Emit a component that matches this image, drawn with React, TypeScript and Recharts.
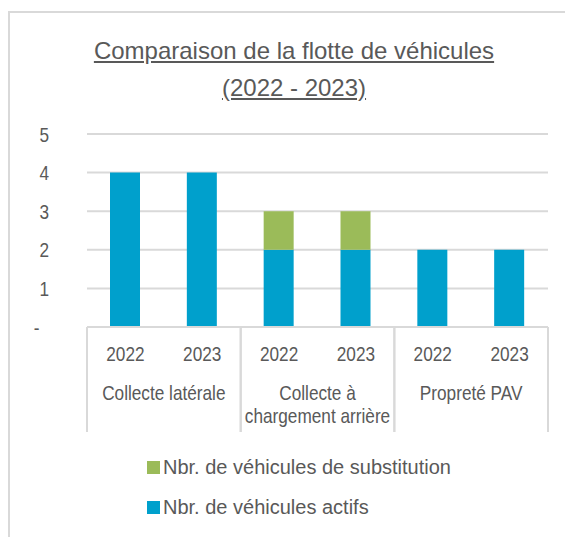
import React from 'react';
import { BarChart, Bar, XAxis, YAxis, CartesianGrid, Legend } from 'recharts';

const years = ['2022', '2023', '2022', '2023', '2022', '2023'];
const groups = [
  'Collecte latérale',
  'Collecte latérale',
  'Collecte à\nchargement arrière',
  'Collecte à\nchargement arrière',
  'Propreté PAV',
  'Propreté PAV',
];
const actifs = [4, 4, 2, 2, 2, 2];
const substitution = [0, 0, 1, 1, 0, 0];
const yTicks = [0, 1, 2, 3, 4, 5];

const data = years.map((year, i) => ({
  year,
  group: groups[i],
  actifs: actifs[i],
  substitution: substitution[i],
}));

const FONT = "'Liberation Sans', Arial, sans-serif";
const TEXT = '#595959';
const LINE = '#d9d9d9';
const BLUE = '#00a0cc';
const GREEN = '#9bbb59';
const YEAR_AXIS_H = 40;

// no Arial Narrow here, so squeeze the regular face
const Narrow = ({ x, y, anchor, dy, children }: any) => (
  <text
    transform={`translate(${x},${y}) scale(0.82,1)`}
    x={0}
    y={0}
    dy={dy}
    textAnchor={anchor}
    fill={TEXT}
    fontSize={21}
    fontFamily={FONT}
  >
    {children}
  </text>
);

const YearTick = (props: any) => {
  const { x, y, payload } = props;
  return (
    <Narrow x={x} y={y} dy={34} anchor="middle">
      {payload.value}
    </Narrow>
  );
};

const GroupTick = (props: any) => {
  const { x, y, payload } = props;
  const half = payload.offset || 0;
  const top = y - YEAR_AXIS_H;
  const lines = String(payload.value).split('\n');
  return (
    <g>
      <line x1={x - half} x2={x - half} y1={top} y2={top + 105} stroke={LINE} strokeWidth={2} />
      <line x1={x + half} x2={x + half} y1={top} y2={top + 105} stroke={LINE} strokeWidth={2} />
      <Narrow x={x} y={y} anchor="middle">
        {lines.map((l, i) => (
          <tspan key={i} x={0} dy={i === 0 ? 33 : 23}>
            {l}
          </tspan>
        ))}
      </Narrow>
    </g>
  );
};

const ValueTick = (props: any) => {
  const { x, y, payload } = props;
  return (
    <Narrow x={x} y={y} dy="0.36em" anchor="end">
      {payload.value === 0 ? '-\u2007' : String(payload.value)}
    </Narrow>
  );
};

const LegendContent = (props: any) => {
  const items = [...(props.payload || [])].reverse();
  return (
    <div style={{ height: 90, fontFamily: FONT, fontSize: 20, color: TEXT }}>
      {items.map((it: any) => (
        <div key={it.value} style={{ height: 40, display: 'flex', alignItems: 'center' }}>
          <span style={{ width: 13, height: 13, background: it.color, marginRight: 3, display: 'inline-block' }} />
          <span>{it.value}</span>
        </div>
      ))}
    </div>
  );
};

export default function App() {
  return (
    <div style={{ position: 'relative', width: 565, height: 529, overflow: 'hidden' }}>
      <div
        style={{
          position: 'absolute',
          left: 0,
          top: 3,
          width: 600,
          height: 600,
          borderLeft: `2px solid ${LINE}`,
          borderTop: `2px solid ${LINE}`,
        }}
      >
        <div
          style={{
            width: 568,
            paddingTop: 19,
            lineHeight: '37px',
            textAlign: 'center',
            fontFamily: FONT,
            fontSize: 24,
            color: TEXT,
            textDecoration: 'underline',
          }}
        >
          Comparaison de la flotte de véhicules
          <br />
          (2022 - 2023)
        </div>
        <BarChart width={563} height={431} data={data} margin={{ top: 28, right: 25, left: 0, bottom: 0 }} barSize={30}>
          <CartesianGrid xAxisId={0} horizontal vertical={false} stroke={LINE} strokeWidth={2} />
          <XAxis
            xAxisId={0}
            dataKey="year"
            height={YEAR_AXIS_H}
            axisLine={{ stroke: LINE, strokeWidth: 2 }}
            tickLine={false}
            tickSize={0}
            tickMargin={0}
            interval={0}
            tick={<YearTick />}
          />
          <XAxis
            xAxisId={1}
            dataKey="group"
            allowDuplicatedCategory={false}
            height={80}
            axisLine={false}
            tickLine={false}
            tickSize={0}
            tickMargin={0}
            interval={0}
            tick={<GroupTick />}
          />
          <YAxis
            domain={[0, 5]}
            ticks={yTicks}
            width={77}
            axisLine={false}
            tickLine={false}
            tickSize={0}
            tickMargin={38}
            tick={<ValueTick />}
          />
          <Legend
            verticalAlign="bottom"
            layout="vertical"
            wrapperStyle={{ left: 137, width: 400 }}
            content={<LegendContent />}
          />
          <Bar xAxisId={0} dataKey="actifs" name="Nbr. de véhicules actifs" stackId="a" fill={BLUE} isAnimationActive={false} />
          <Bar
            xAxisId={0}
            dataKey="substitution"
            name="Nbr. de véhicules de substitution"
            stackId="a"
            fill={GREEN}
            isAnimationActive={false}
          />
        </BarChart>
      </div>
    </div>
  );
}
